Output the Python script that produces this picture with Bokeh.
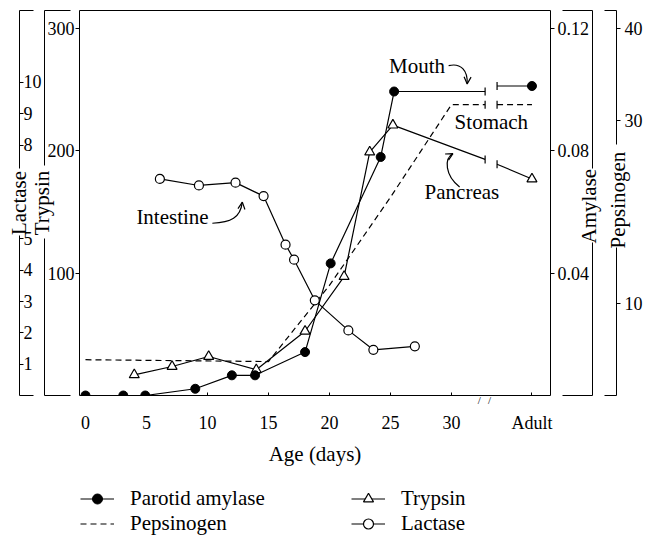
import math
from bokeh.plotting import figure
from bokeh.layouts import column
from bokeh.models import (Range1d, LinearAxis, FixedTicker, PrintfTickFormatter,
                          Legend, LegendItem, Label, Arrow, OpenHead)
from bokeh.embed import file_html
from bokeh.resources import INLINE

FONT = "Liberation Serif"

# ---------------- data ----------------
amy_days = [0, 3.1, 4.9, 9.0, 12.0, 13.9, 18.0, 20.1, 24.2, 25.3]
amy_vals = [0, 0, 0, 0.0022, 0.0066, 0.0066, 0.0142, 0.0432, 0.078, 0.0994]
amy_break = [0.0994, 0.1012]
amy_adult = 0.1012

tryp_days = [4.0, 7.1, 10.1, 14.0, 18.0, 21.2, 23.3, 25.2]
tryp_vals = [16.9, 23.7, 31.9, 21.0, 52.5, 97.2, 199, 221]
tryp_break = [193, 189]
tryp_adult = 177

lac_days = [6.1, 9.3, 12.3, 14.6, 16.4, 17.1, 18.8, 21.55, 23.6, 27.0]
lac_vals = [6.92, 6.71, 6.80, 6.37, 4.82, 4.34, 3.04, 2.08, 1.46, 1.57]

pep_days = [0, 15, 20, 25, 30]
pep_vals = [3.9, 3.7, 12.0, 21.6, 31.7]
pep_break = [31.7, 31.7]
pep_adult = 31.7

ADULT = 36.6
BREAK = [32.76, 33.74]
AXIS_BREAK = [32.29, 33.12]

x_ticks = [0, 5, 10, 15, 20, 25, 30, ADULT]
x_tick_labels = ["0", "5", "10", "15", "20", "25", "30", "Adult"]
tryp_ticks = [100, 200, 300]
lac_ticks = [1, 2, 3, 4, 5, 8, 9, 10]
amy_ticks = [0.04, 0.08, 0.12]
pep_ticks = [10, 30, 40]

TRYP_TOP = 314.7
AMY_TOP = 0.12589
LAC_TOP = 12.3
PEP_TOP = 41.96

# lower end of the rotated right-hand titles
AMY_TITLE_AT = 0.0497
PEP_TITLE_AT = 16.02

W = 645
HM = 470      # main figure
HL = 66       # legend strip

# ---------------- main figure ----------------
p = figure(width=W, height=HM, x_range=Range1d(-0.49, 38.12),
           y_range=Range1d(0, TRYP_TOP), output_backend="svg",
           toolbar_location=None, min_border_left=79, min_border_right=W - 79 - 473,
           min_border_top=10, min_border_bottom=HM - 395)
p.extra_y_ranges = {"amy": Range1d(0, AMY_TOP), "lac": Range1d(0, LAC_TOP),
                    "pep": Range1d(0, PEP_TOP)}
p.grid.visible = False
p.outline_line_color = "black"
p.outline_line_width = 1
p.background_fill_color = "white"
p.border_fill_color = "white"


def style(ax, tick_size="18px"):
    ax.major_label_text_font = FONT
    ax.major_label_text_font_size = tick_size
    ax.major_label_text_color = "black"
    ax.axis_label_text_font = FONT
    ax.axis_label_text_font_size = "21px"
    ax.axis_label_text_font_style = "normal"
    ax.axis_label_text_color = "black"
    ax.major_tick_line_color = "black"
    ax.minor_tick_line_color = "black"
    ax.axis_line_color = "black"
    ax.major_tick_in = 0
    ax.major_tick_out = 0
    ax.minor_tick_in = 0
    ax.minor_tick_out = 0


# B1: default x axis -> tick marks (minor) and the "/ /" break marks
xa = p.xaxis[0]
style(xa, "11px")
xa.ticker = FixedTicker(ticks=AXIS_BREAK, minor_ticks=x_ticks)
xa.major_label_overrides = {t: "/" for t in AXIS_BREAK}
xa.minor_tick_in = 3
xa.major_label_standoff = -2
xa.axis_line_color = None

# B2: x tick labels + title
xb = LinearAxis(ticker=FixedTicker(ticks=x_ticks))
style(xb)
xb.major_label_overrides = {t: l for t, l in zip(x_ticks, x_tick_labels)}
xb.major_label_standoff = 4
xb.axis_label = "Age (days)"
xb.axis_label_standoff = 6
xb.axis_line_color = None
p.add_layout(xb, "below")

# L1: trypsin ticks on the frame
l1 = p.yaxis[0]
style(l1)
l1.ticker = FixedTicker(ticks=tryp_ticks)
l1.major_tick_out = 4
l1.major_label_standoff = 1
l1.axis_line_color = None

# L2: trypsin bracket
l2 = LinearAxis(ticker=FixedTicker(ticks=[], minor_ticks=[0, TRYP_TOP]))
style(l2)
l2.minor_tick_in = 26
l2.major_label_standoff = 0
l2.axis_label = "Trypsin"
l2.axis_label_standoff = -9
l2.axis_line_dash = "157 73 500"
p.add_layout(l2, "left")

# spacer (one invisible tick)
ls = LinearAxis(ticker=FixedTicker(ticks=[150]))
style(ls)
ls.axis_line_color = None
ls.major_tick_out = 7
ls.major_tick_line_alpha = 0
ls.major_label_overrides = {150: ""}
ls.major_label_standoff = 0
p.add_layout(ls, "left")

# L3: lactase
l3 = LinearAxis(y_range_name="lac",
                ticker=FixedTicker(ticks=lac_ticks, minor_ticks=[0, LAC_TOP]))
style(l3)
l3.major_tick_in = 4
l3.minor_tick_in = 14
l3.major_label_standoff = -22
l3.major_label_overrides = {t: (str(t) if t >= 10 else str(t) + "\u00a0\u00a0")
                            for t in lac_ticks}
l3.axis_label = "Lactase"
l3.axis_label_standoff = -10
l3.axis_line_dash = "160 67 500"
p.add_layout(l3, "left")

# R1: amylase ticks on the frame
r1 = LinearAxis(y_range_name="amy", ticker=FixedTicker(ticks=amy_ticks),
                formatter=PrintfTickFormatter(format="%.2f"))
style(r1)
r1.major_tick_out = 4
r1.major_label_standoff = 3
r1.axis_line_color = None
p.add_layout(r1, "right")

# R2: amylase bracket with its rotated title
r2 = LinearAxis(y_range_name="amy",
                ticker=FixedTicker(ticks=[AMY_TITLE_AT], minor_ticks=[0, AMY_TOP]))
style(r2, "21px")
r2.minor_tick_in = 30
r2.major_label_overrides = {AMY_TITLE_AT: "Amylase"}
r2.major_label_orientation = math.pi / 2
r2.major_label_standoff = -3
r2.axis_line_dash = "153 74 500"
p.add_layout(r2, "right")

# R3: pepsinogen
r3 = LinearAxis(y_range_name="pep",
                ticker=FixedTicker(ticks=pep_ticks, minor_ticks=[0, PEP_TOP]))
style(r3)
r3.major_tick_out = 4
r3.minor_tick_in = 12
r3.major_label_standoff = 4
r3.axis_line_dash = "148 103 500"
p.add_layout(r3, "right")

# R4: pepsinogen rotated title pulled back onto the R3 line
r4 = LinearAxis(y_range_name="pep", ticker=FixedTicker(ticks=[PEP_TITLE_AT]))
style(r4, "21px")
r4.axis_line_color = None
r4.major_label_overrides = {PEP_TITLE_AT: "Pepsinogen"}
r4.major_label_orientation = math.pi / 2
r4.major_label_standoff = -27
p.add_layout(r4, "right")

LW = 1.2

# ---------------- series ----------------
pep_l1 = p.line(pep_days + [BREAK[0]], pep_vals + [pep_break[0]], y_range_name="pep",
                line_color="black", line_width=LW, line_dash="6 4")
p.line([BREAK[1], ADULT], [pep_break[1], pep_adult], y_range_name="pep",
       line_color="black", line_width=LW, line_dash="6 4")
p.scatter(BREAK, pep_break, y_range_name="pep", marker="dash", angle=math.pi / 2,
          size=8, line_color="black", line_width=LW)

lac_l = p.line(lac_days, lac_vals, y_range_name="lac", line_color="black", line_width=LW)
lac_s = p.scatter(lac_days, lac_vals, y_range_name="lac", marker="circle", size=9,
                  fill_color="white", line_color="black", line_width=LW)

tr_l1 = p.line(tryp_days + [BREAK[0]], tryp_vals + [tryp_break[0]],
               line_color="black", line_width=LW)
p.line([BREAK[1], ADULT], [tryp_break[1], tryp_adult], line_color="black", line_width=LW)
p.scatter(BREAK, tryp_break, marker="dash", angle=math.pi / 2, size=8,
          line_color="black", line_width=LW)
tr_s = p.scatter(tryp_days + [ADULT], tryp_vals + [tryp_adult], marker="triangle",
                 size=10, fill_color="white", line_color="black", line_width=LW)

amy_l1 = p.line(amy_days + [BREAK[0]], amy_vals + [amy_break[0]], y_range_name="amy",
                line_color="black", line_width=LW)
p.line([BREAK[1], ADULT], [amy_break[1], amy_adult], y_range_name="amy",
       line_color="black", line_width=LW)
p.scatter(BREAK, amy_break, y_range_name="amy", marker="dash", angle=math.pi / 2,
          size=8, line_color="black", line_width=LW)
amy_s = p.scatter(amy_days + [ADULT], amy_vals + [amy_adult], y_range_name="amy",
                  marker="circle", size=9, fill_color="black", line_color="black")

# ---------------- annotations ----------------
for txt, x, y, align in [("Intestine", 10.1, 145.7, "right"),
                         ("Mouth", 29.47, 269.6, "right"),
                         ("Stomach", 30.26, 223.3, "left"),
                         ("Pancreas", 27.8, 166.1, "left")]:
    p.add_layout(Label(x=x, y=y, text=txt, text_align=align, text_baseline="middle",
                       text_font=FONT, text_font_size="21px", text_color="black"))

curves = dict(x0=[10.4, 29.77, 30.67], y0=[140.8, 269.6, 170.4],
              cx0=[11.92, 30.78, 29.47], cy0=[141.3, 272.1, 179.7],
              cx1=[12.69, 31.35, 29.39], cy1=[145.2, 265.5, 193.6],
              x1=[12.86, 31.29, 30.12], y1=[158.1, 254.7, 197.7])
p.bezier(x0=curves["x0"], y0=curves["y0"], x1=curves["x1"], y1=curves["y1"],
         cx0=curves["cx0"], cy0=curves["cy0"], cx1=curves["cx1"], cy1=curves["cy1"],
         line_color="black", line_width=LW)
for i in range(3):
    p.add_layout(Arrow(x_start=curves["cx1"][i], y_start=curves["cy1"][i],
                       x_end=curves["x1"][i], y_end=curves["y1"][i],
                       line_alpha=0, start=None,
                       end=OpenHead(size=7, line_width=LW, line_color="black")))

# ---------------- legend strip ----------------
# the same series drawn again, outside this strip's visible ranges, as legend sources
pl = figure(width=W, height=HL, x_range=Range1d(1000, 1001), y_range=Range1d(1000, 1001),
            output_backend="svg", toolbar_location=None,
            x_axis_location=None, y_axis_location=None,
            min_border_left=0, min_border_right=0, min_border_top=0, min_border_bottom=0)
pl.grid.visible = False
pl.outline_line_color = None
pl.background_fill_color = "white"
pl.border_fill_color = "white"

g_amy_l = pl.line(amy_days, amy_vals, line_color="black", line_width=LW)
g_amy_s = pl.scatter(amy_days, amy_vals, marker="circle", size=9, fill_color="black",
                     line_color="black")
g_pep_l = pl.line(pep_days, pep_vals, line_color="black", line_width=LW, line_dash="6 4")
g_tr_l = pl.line(tryp_days, tryp_vals, line_color="black", line_width=LW)
g_tr_s = pl.scatter(tryp_days, tryp_vals, marker="triangle", size=10, fill_color="white",
                    line_color="black", line_width=LW)
g_lac_l = pl.line(lac_days, lac_vals, line_color="black", line_width=LW)
g_lac_s = pl.scatter(lac_days, lac_vals, marker="circle", size=9, fill_color="white",
                     line_color="black", line_width=LW)

legend = Legend(items=[LegendItem(label="Parotid amylase", renderers=[g_amy_l, g_amy_s]),
                       LegendItem(label="Pepsinogen", renderers=[g_pep_l]),
                       LegendItem(label="Trypsin", renderers=[g_tr_l, g_tr_s]),
                       LegendItem(label="Lactase", renderers=[g_lac_l, g_lac_s])],
                location=(1, 0), orientation="vertical", nrows=2,
                border_line_color=None, background_fill_alpha=0, padding=0, margin=0,
                spacing=0, label_height=25, glyph_height=25, glyph_width=34,
                label_standoff=16, label_width=221, label_text_font=FONT,
                label_text_font_size="21px", label_text_color="black")
pl.add_layout(legend)

open("out.html", "w").write(file_html(column(p, pl), INLINE))
